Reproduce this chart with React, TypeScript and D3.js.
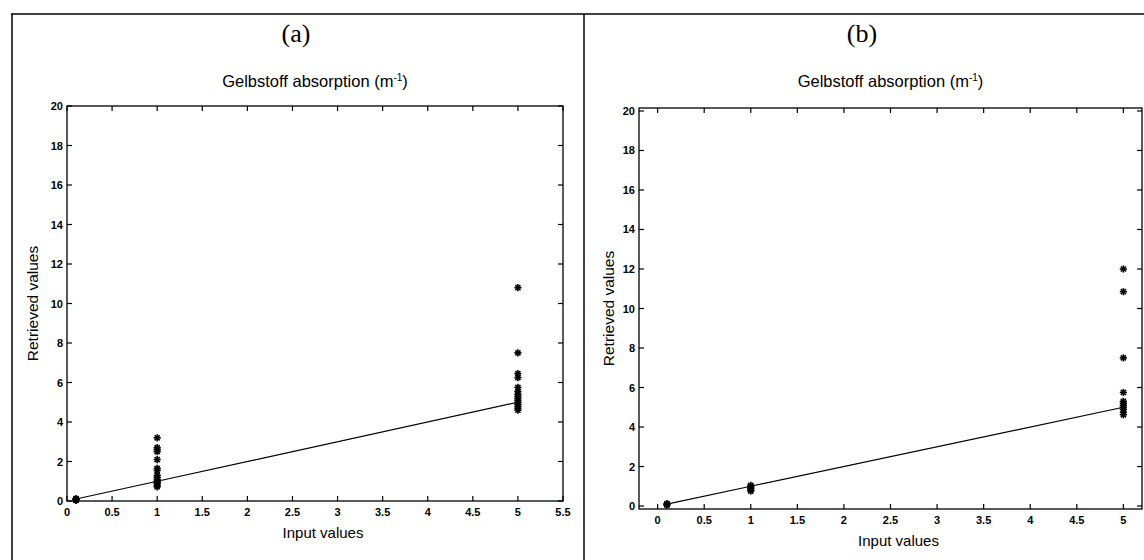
import React from "react";
import * as d3 from "d3";

const titleText = "Gelbstoff absorption (m";
const xLabel = "Input values";
const yLabel = "Retrieved values";

const xTicksA = [0, 0.5, 1, 1.5, 2, 2.5, 3, 3.5, 4, 4.5, 5, 5.5];
const xTicksB = [0, 0.5, 1, 1.5, 2, 2.5, 3, 3.5, 4, 4.5, 5];
const yTicks = [0, 2, 4, 6, 8, 10, 12, 14, 16, 18, 20];

// reference line (input = retrieved)
const lineX = [0.1, 1, 5];
const lineY = [0.1, 1, 5];

// panel (a) retrieved values
const aInputs = [0.1, 0.1, 0.1, 0.1, 1, 1, 1, 1, 1, 1, 1, 1, 1, 1, 1, 1, 1, 1, 1, 5, 5, 5, 5, 5, 5, 5, 5, 5, 5, 5, 5, 5, 5, 5];
const aRetrieved = [0.03, 0.06, 0.09, 0.12, 3.2, 2.7, 2.6, 2.5, 2.1, 1.65, 1.55, 1.3, 1.2, 1.1, 1.0, 0.95, 0.9, 0.8, 0.72, 10.8, 7.5, 6.45, 6.25, 5.75, 5.55, 5.4, 5.3, 5.2, 5.1, 5.0, 4.9, 4.8, 4.7, 4.6];

// panel (b) retrieved values
const bInputs = [0.1, 0.1, 0.1, 1, 1, 1, 1, 1, 5, 5, 5, 5, 5, 5, 5, 5, 5, 5, 5];
const bRetrieved = [0.05, 0.08, 0.12, 1.05, 0.98, 0.9, 0.82, 0.76, 12.0, 10.85, 7.5, 5.75, 5.3, 5.2, 5.1, 5.0, 4.9, 4.75, 4.62];

type PanelProps = {
  label: string;
  xDomain: [number, number];
  yDomain: [number, number];
  xRange: [number, number];
  yRange: [number, number];
  xTicks: number[];
  inputs: number[];
  values: number[];
  panelCenter: number;
  yLabelX: number;
};

const sans = "'Liberation Sans', Arial, Helvetica, sans-serif";

function Star({ x, y }: { x: number; y: number }) {
  const r = 3.6;
  const angles = [0, 45, 90, 135];
  return (
    <g>
      {angles.map((a) => {
        const rad = (a * Math.PI) / 180;
        const dx = Math.cos(rad) * r;
        const dy = Math.sin(rad) * r;
        return <line key={a} x1={x - dx} y1={y - dy} x2={x + dx} y2={y + dy} stroke="#000" strokeWidth={1.6} />;
      })}
    </g>
  );
}

function Panel(p: PanelProps) {
  const x = d3.scaleLinear().domain(p.xDomain).range(p.xRange);
  const y = d3.scaleLinear().domain(p.yDomain).range(p.yRange);
  const [x0, x1] = p.xRange;
  const [y0, y1] = [p.yRange[1], p.yRange[0]];
  const line = d3
    .line<number>()
    .x((d) => x(d))
    .y((_, i) => y(lineY[i]));
  const tl = 5;
  const plotCenter = (x0 + x1) / 2;
  return (
    <g>
      <text x={p.panelCenter} y={42} textAnchor="middle" fontFamily="'Liberation Serif', 'Times New Roman', serif" fontSize={26}>
        {p.label}
      </text>
      <text x={plotCenter} y={87} textAnchor="middle" fontFamily={sans} fontSize={16.5}>
        {titleText}
        <tspan dy={-6} fontSize={10}>-1</tspan>
        <tspan dy={6}>)</tspan>
      </text>
      <rect x={x0} y={y0} width={x1 - x0} height={y1 - y0} fill="none" stroke="#000" strokeWidth={1.3} />
      {p.xTicks.map((t) => (
        <g key={"x" + t}>
          <line x1={x(t)} x2={x(t)} y1={y1} y2={y1 - tl} stroke="#000" strokeWidth={1.2} />
          <line x1={x(t)} x2={x(t)} y1={y0} y2={y0 + tl} stroke="#000" strokeWidth={1.2} />
          <text x={x(t)} y={y1 + 15} textAnchor="middle" fontFamily={sans} fontSize={11} fontWeight="bold">
            {t}
          </text>
        </g>
      ))}
      {yTicks.map((t) => (
        <g key={"y" + t}>
          <line x1={x0} x2={x0 + tl} y1={y(t)} y2={y(t)} stroke="#000" strokeWidth={1.2} />
          <line x1={x1} x2={x1 - tl} y1={y(t)} y2={y(t)} stroke="#000" strokeWidth={1.2} />
          <text x={x0 - 4} y={y(t) + 4} textAnchor="end" fontFamily={sans} fontSize={11} fontWeight="bold">
            {t}
          </text>
        </g>
      ))}
      <path d={line(lineX) || ""} fill="none" stroke="#000" strokeWidth={1.2} />
      {p.inputs.map((v, i) => (
        <Star key={i} x={x(v)} y={y(p.values[i])} />
      ))}
      <text x={plotCenter + 8} y={y1 + 37} textAnchor="middle" fontFamily={sans} fontSize={15}>
        {xLabel}
      </text>
      <text
        transform={`translate(${p.yLabelX},${(y0 + y1) / 2}) rotate(-90)`}
        textAnchor="middle"
        fontFamily={sans}
        fontSize={15.5}
      >
        {yLabel}
      </text>
    </g>
  );
}

export default function App() {
  return (
    <svg width={1144} height={560} style={{ position: "absolute", left: 0, top: 0, background: "#fff" }}>
      <rect x={0} y={0} width={1144} height={560} fill="#fff" />
      <line x1={11} x2={1144} y1={14} y2={14} stroke="#000" strokeWidth={1.5} />
      <line x1={12} x2={12} y1={14} y2={560} stroke="#000" strokeWidth={1.5} />
      <line x1={584} x2={584} y1={14} y2={560} stroke="#000" strokeWidth={1.5} />
      <Panel
        label="(a)"
        xDomain={[0, 5.5]}
        yDomain={[0, 20]}
        xRange={[67, 563]}
        yRange={[501, 106]}
        xTicks={xTicksA}
        inputs={aInputs}
        values={aRetrieved}
        panelCenter={296}
        yLabelX={38}
      />
      <Panel
        label="(b)"
        xDomain={[-0.2, 5.2]}
        yDomain={[-0.15, 20.15]}
        xRange={[639, 1142]}
        yRange={[509, 108]}
        xTicks={xTicksB}
        inputs={bInputs}
        values={bRetrieved}
        panelCenter={862}
        yLabelX={614}
      />
    </svg>
  );
}
